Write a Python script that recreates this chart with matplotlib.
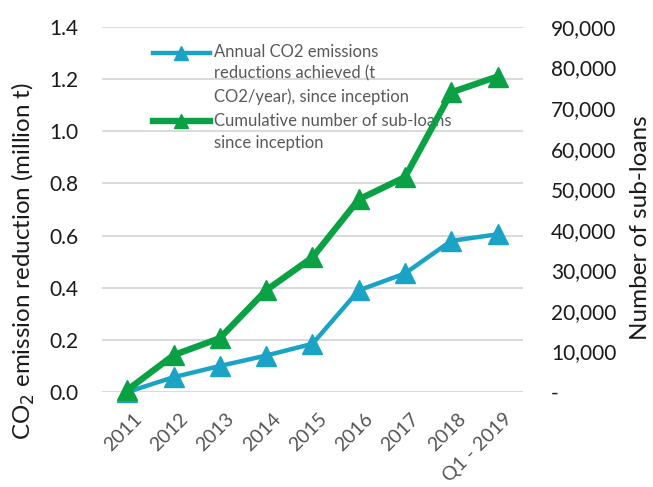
import numpy as np
import matplotlib.pyplot as plt
from matplotlib.ticker import FuncFormatter
from matplotlib.legend_handler import HandlerLine2D
from matplotlib.transforms import ScaledTranslation

years = ['2011', '2012', '2013', '2014', '2015', '2016', '2017', '2018', 'Q1 - 2019']
co2_reduction = [0.0, 0.057, 0.10, 0.14, 0.185, 0.39, 0.455, 0.58, 0.605]   # million t CO2/year
sub_loans = [500, 9100, 13300, 25100, 33200, 47500, 53000, 73900, 77800]    # cumulative count

plt.rcParams['font.family'] = ['Lato', 'DejaVu Sans']

blue = '#1ba3c6'
green = '#0aa145'
text_col = '#1a1a1a'


class TopHandler(HandlerLine2D):
    # legend handle lifted up to sit next to the first line of a wrapped label
    def __init__(self, shift, **kw):
        super().__init__(**kw)
        self.shift = shift

    def create_artists(self, legend, orig_handle, xdescent, ydescent,
                       width, height, fontsize, trans):
        arts = super().create_artists(legend, orig_handle, xdescent, ydescent,
                                      width, height, fontsize, trans)
        for a in arts:
            a.set_ydata(np.asarray(a.get_ydata(), dtype=float) + self.shift)
        return arts


fig = plt.figure(figsize=(6.53, 4.87), dpi=100)
ax = fig.add_axes([0.156, 0.195, 0.645, 0.7495])
ax2 = ax.twinx()

x = range(len(years))
l1, = ax.plot(x, co2_reduction, color=blue, lw=3.2, marker='^', ms=14, clip_on=False, zorder=3)
l2, = ax2.plot(x, sub_loans, color=green, lw=4.6, marker='^', ms=14, clip_on=False, zorder=3)

ax.set_xlim(-0.55, 8.55)
ax.set_ylim(0, 1.4)
ax.set_yticks([i * 0.2 for i in range(8)])
ax.yaxis.set_major_formatter(FuncFormatter(lambda v, p: f'{v:.1f}'))
ax2.set_ylim(0, 90000)
ax2.set_yticks(range(0, 90001, 10000))
ax2.yaxis.set_major_formatter(FuncFormatter(lambda v, p: '-' if v == 0 else f'{int(v):,}'))

ax.grid(axis='y', color='#d9d9d9', lw=1.4)
ax.set_axisbelow(True)
for a in (ax, ax2):
    for s in a.spines.values():
        s.set_visible(False)
    a.tick_params(length=0, labelsize=15, labelcolor=text_col)
ax.tick_params(axis='y', pad=17)
ax2.tick_params(axis='y', pad=20)

ax.set_xticks(list(x))
ax.set_xticklabels(years, rotation=45, ha='right', rotation_mode='anchor', color='#555555', fontsize=14)
ax.tick_params(axis='x', pad=13)
for lab in ax.get_xticklabels():
    lab.set_transform(lab.get_transform() + ScaledTranslation(4 / 72, 0, fig.dpi_scale_trans))

ax.set_ylabel('CO$_2$ emission reduction (million t)', fontsize=17.4, color=text_col)
ax.yaxis.set_label_coords(-0.154, 0.36)
ax2.set_ylabel('Number of sub-loans', fontsize=17.5, color=text_col)
ax2.yaxis.set_label_coords(1.255, 0.45)

leg = ax.legend([l1, l2],
                ['Annual CO2 emissions\nreductions achieved (t\nCO2/year), since inception',
                 'Cumulative number of sub-loans\nsince inception'],
                loc='upper left', bbox_to_anchor=(0.086, 0.995), frameon=False,
                fontsize=12, labelcolor='#595959', handlelength=3.4,
                handletextpad=0.25, labelspacing=0.5, markerscale=0.75,
                handler_map={l1: TopHandler(16.0), l2: TopHandler(8.0)})
for t in leg.get_texts():
    t.set_linespacing(1.45)

fig.savefig('out.png', dpi=100)
